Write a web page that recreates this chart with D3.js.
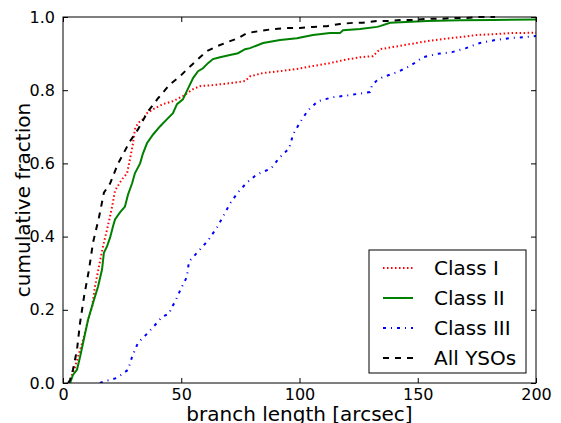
<!DOCTYPE html>
<html><head><meta charset="utf-8">
<script src="https://cdn.jsdelivr.net/npm/d3@7"></script>
<style>body{margin:0;background:#fff}svg{display:block}text{font-family:"DejaVu Sans",sans-serif;fill:#000}</style>
</head><body><svg id="c" width="561" height="423"></svg>
<script>
const xTicks=[0,50,100,150,200];
const yTicks=[0.0,0.2,0.4,0.6,0.8,1.0];
const seriesNames=["Class I","Class II","Class III","All YSOs"];
const classI=[[2.5,0],[3.8,0.022],[5.1,0.044],[6.3,0.071],[8.5,0.118],[10.6,0.173],[12.3,0.208],[13.5,0.263],[15.2,0.318],[16.9,0.373],[18.6,0.419],[19.9,0.455],[21.1,0.493],[22.0,0.526],[24.9,0.556],[27.1,0.573],[28.3,0.611],[29.6,0.655],[30.4,0.693],[31.7,0.71],[33.8,0.721],[35.5,0.737],[38.1,0.748],[42.3,0.762],[46.5,0.77],[50.7,0.784],[55.0,0.803],[57.9,0.811],[63.4,0.814],[70.6,0.819],[77.0,0.825],[79.1,0.838],[84.6,0.847],[91.8,0.852],[98.9,0.858],[105.7,0.866],[112.9,0.874],[118.4,0.882],[125.6,0.89],[131.1,0.893],[134.0,0.912],[139.5,0.918],[146.7,0.926],[153.9,0.934],[160.7,0.94],[167.9,0.945],[175.1,0.951],[181.8,0.953],[189.0,0.956],[200,0.957]];
const classII=[[3.0,0],[4.2,0.022],[5.9,0.036],[7.2,0.071],[8.5,0.11],[10.6,0.173],[12.7,0.219],[14.8,0.263],[16.5,0.31],[17.3,0.356],[18.6,0.373],[19.9,0.397],[21.1,0.427],[22.0,0.447],[24.1,0.466],[26.2,0.482],[27.5,0.515],[29.2,0.545],[30.4,0.573],[32.6,0.6],[33.8,0.627],[35.5,0.655],[38.1,0.679],[41.0,0.701],[44.0,0.721],[46.5,0.737],[48.2,0.762],[50.7,0.775],[52.9,0.805],[55.0,0.833],[57.1,0.852],[59.2,0.86],[61.3,0.874],[63.4,0.885],[66.4,0.89],[70.6,0.896],[74.0,0.901],[77.0,0.912],[79.1,0.915],[84.6,0.929],[91.8,0.937],[98.9,0.942],[105.7,0.951],[112.9,0.956],[117.1,0.956],[118.4,0.964],[125.6,0.967],[132.8,0.973],[134.0,0.975],[138.3,0.984],[153.9,0.989],[167.9,0.991],[181.8,0.992],[200,0.993]];
const classIII=[[15.6,0],[16.9,0.003],[22.8,0.014],[27.5,0.036],[29.2,0.071],[31.7,0.11],[35.9,0.137],[39.7,0.164],[41.9,0.181],[44.8,0.189],[46.1,0.208],[47.4,0.222],[49.9,0.258],[52.4,0.29],[52.9,0.315],[53.3,0.332],[57.1,0.359],[61.3,0.389],[65.1,0.425],[67.7,0.455],[70.6,0.49],[74.0,0.521],[77.8,0.548],[82.0,0.57],[88.0,0.586],[91.3,0.614],[95.6,0.641],[97.3,0.679],[100.2,0.712],[103.6,0.745],[107.8,0.77],[114.2,0.781],[120.5,0.786],[126.8,0.792],[129.8,0.795],[130.7,0.814],[132.8,0.827],[135.3,0.836],[141.2,0.849],[146.7,0.866],[149.7,0.879],[152.2,0.89],[158.1,0.899],[164.5,0.904],[170.4,0.915],[176.3,0.929],[182.7,0.937],[188.6,0.942],[194.5,0.945],[200,0.948]];
const allYSOs=[[2.1,0],[3.0,0.008],[4.2,0.036],[5.9,0.09],[7.2,0.164],[8.9,0.236],[11.0,0.31],[12.7,0.384],[15.2,0.452],[17.3,0.52],[19.9,0.545],[23.3,0.6],[28.3,0.66],[31.7,0.693],[35.9,0.742],[40.2,0.778],[45.2,0.816],[49.5,0.838],[52.9,0.86],[57.1,0.885],[60.9,0.907],[65.1,0.92],[69.8,0.932],[74.0,0.942],[77.8,0.956],[83.3,0.962],[88.8,0.967],[94.7,0.97],[100.2,0.97],[105.7,0.973],[111.6,0.975],[117.1,0.981],[122.6,0.984],[126.8,0.984],[132.8,0.989],[138.3,0.989],[143.3,0.992],[148.8,0.992],[153.9,0.995],[159.4,0.995],[164.9,0.997],[170.0,0.997],[175.5,1.0],[182.7,1.0]];

const styles=[
 {data:classI,color:"#ff0000",dash:"1.5,2.5",w:2},
 {data:classII,color:"#008000",dash:null,w:2},
 {data:classIII,color:"#0000ff",dash:"3,5,1,5",w:2},
 {data:allYSOs,color:"#000000",dash:"6,6",w:2}
];
const L=63,R=536,T=17,B=383;
const svg=d3.select("#c");
const x=d3.scaleLinear().domain([0,200]).range([L,R]);
const y=d3.scaleLinear().domain([0,1]).range([B,T]);
const g=svg.append("g");
g.append("defs").append("clipPath").attr("id","cp").append("rect").attr("x",L).attr("y",T-2).attr("width",R-L).attr("height",B-T+2);
const line=d3.line().x(d=>x(d[0])).y(d=>y(d[1]));
styles.forEach(s=>{
  g.append("path").datum(s.data).attr("d",line).attr("fill","none").attr("stroke",s.color)
   .attr("stroke-width",s.w).attr("stroke-dasharray",s.dash).attr("clip-path","url(#cp)");
});
g.append("rect").attr("x",L).attr("y",T).attr("width",R-L).attr("height",B-T).attr("fill","none").attr("stroke","#000").attr("stroke-width",1);
const tl=5;
const xb=d3.axisBottom(x).tickValues(xTicks).tickSize(-tl).tickPadding(6).tickFormat(d3.format("d"));
const gx=g.append("g").attr("transform",`translate(0,${B})`).call(xb);
const xt=d3.axisTop(x).tickValues(xTicks).tickSize(-tl).tickFormat("");
const gxt=g.append("g").attr("transform",`translate(0,${T})`).call(xt);
const yl=d3.axisLeft(y).tickValues(yTicks).tickSize(-tl).tickPadding(8).tickFormat(d3.format(".1f"));
const gy=g.append("g").attr("transform",`translate(${L},0)`).call(yl);
const yr=d3.axisRight(y).tickValues(yTicks).tickSize(-tl).tickFormat("");
const gyr=g.append("g").attr("transform",`translate(${R},0)`).call(yr);
[gx,gxt,gy,gyr].forEach(a=>{a.select(".domain").remove();a.selectAll("text").style("font-size","16px").style("font-family","DejaVu Sans").attr("fill","#000");a.selectAll("line").attr("stroke","#000");});
gx.selectAll("text").attr("dy","0.71em");
svg.append("text").attr("x",(L+R)/2).attr("y",421).attr("text-anchor","middle").style("font-size","20px").text("branch length [arcsec]");
svg.append("text").attr("transform",`translate(30,${(T+B)/2}) rotate(-90)`).attr("text-anchor","middle").style("font-size","20px").text("cumulative fraction");
const lx=369,ly=250,lw=157,lh=123;
const lg=svg.append("g");
lg.append("rect").attr("x",lx).attr("y",ly).attr("width",lw).attr("height",lh).attr("fill","#fff").attr("stroke","#000").attr("stroke-width",1);
const rows=[268,298,328,358];
styles.forEach((s,i)=>{
  lg.append("line").attr("x1",383).attr("x2",413).attr("y1",rows[i]).attr("y2",rows[i]).attr("stroke",s.color).attr("stroke-width",s.w).attr("stroke-dasharray",s.dash);
  lg.append("text").attr("x",434).attr("y",rows[i]).attr("dy","0.36em").style("font-size","20px").text(seriesNames[i]);
});
</script></body></html>
